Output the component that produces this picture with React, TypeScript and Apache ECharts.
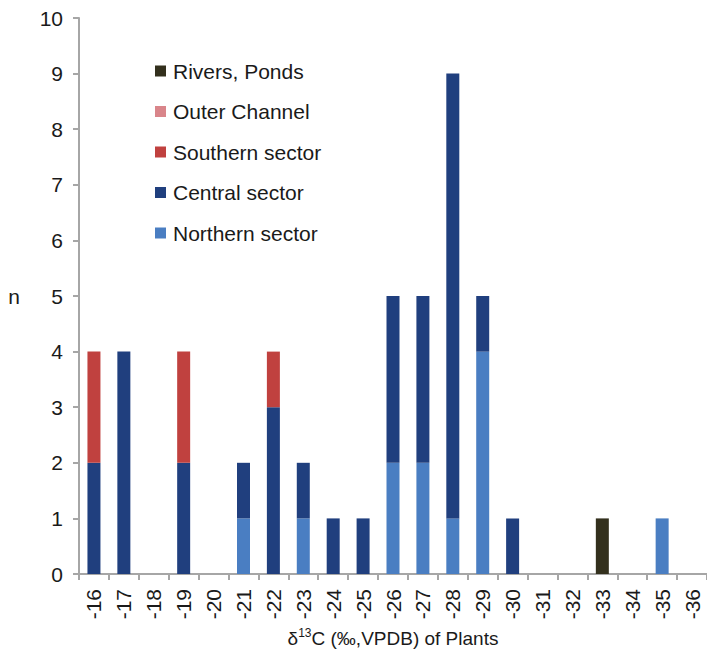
import React, { useEffect, useRef } from "react";
import * as echarts from "echarts";

// δ13C classes of plants (‰, VPDB)
const categories = [
  "-16", "-17", "-18", "-19", "-20", "-21", "-22", "-23", "-24", "-25", "-26",
  "-27", "-28", "-29", "-30", "-31", "-32", "-33", "-34", "-35", "-36",
];

// Counts per class, stacked bottom to top
const northern = [0, 0, 0, 0, 0, 1, 0, 1, 0, 0, 2, 2, 1, 4, 0, 0, 0, 0, 0, 1, 0];
const central = [2, 4, 0, 2, 0, 1, 3, 1, 1, 1, 3, 3, 8, 1, 1, 0, 0, 0, 0, 0, 0];
const southern = [2, 0, 0, 2, 0, 0, 1, 0, 0, 0, 0, 0, 0, 0, 0, 0, 0, 0, 0, 0, 0];
const outerChannel = [0, 0, 0, 0, 0, 0, 0, 0, 0, 0, 0, 0, 0, 0, 0, 0, 0, 0, 0, 0, 0];
const riversPonds = [0, 0, 0, 0, 0, 0, 0, 0, 0, 0, 0, 0, 0, 0, 0, 0, 0, 1, 0, 0, 0];

const legendOrder = ["Rivers, Ponds", "Outer Channel", "Southern sector", "Central sector", "Northern sector"];

const FONT = "Liberation Sans, Arial, Helvetica, sans-serif";
const TEXT = "#1a1a1a";
const AXIS = "#a6a6a6";

export default function App() {
  const ref = useRef<HTMLDivElement>(null);

  useEffect(() => {
    document.body.style.margin = "0";
    if (!ref.current) return;
    const chart = echarts.init(ref.current, undefined, { renderer: "svg" });

    const bar = (name: string, data: number[], color: string) => ({
      name,
      type: "bar",
      stack: "n",
      data,
      barWidth: 13,
      itemStyle: { color },
    });

    chart.setOption({
      animation: false,
      backgroundColor: "#ffffff",
      textStyle: { fontFamily: FONT },
      grid: { left: 79, top: 18, bottom: 84, width: 630 },
      legend: {
        orient: "vertical",
        left: 150,
        top: 54,
        itemWidth: 11,
        itemHeight: 11,
        itemGap: 16.5,
        icon: "rect",
        data: legendOrder,
        textStyle: { fontSize: 21, color: TEXT, fontFamily: FONT, lineHeight: 24, padding: [0, 0, 0, 2] },
      },
      xAxis: {
        type: "category",
        data: categories,
        boundaryGap: true,
        axisLine: { lineStyle: { color: AXIS, width: 2 } },
        axisTick: { show: true, length: 6, alignWithLabel: false, lineStyle: { color: AXIS, width: 2 } },
        axisLabel: { rotate: 90, fontSize: 21, color: TEXT, margin: 15, interval: 0, fontFamily: FONT },
        name: "{t|δ}{s|13}{t|C (‰,VPDB) of Plants}",
        nameLocation: "middle",
        nameGap: 53,
        nameTextStyle: {
          rich: {
            t: { fontSize: 19, color: TEXT, fontFamily: FONT },
            s: { fontSize: 12, color: TEXT, fontFamily: FONT, padding: [0, 0, 10, 0] },
          },
        },
      },
      yAxis: {
        type: "value",
        min: 0,
        max: 10,
        interval: 1,
        splitLine: { show: false },
        axisLine: { show: true, lineStyle: { color: AXIS, width: 2 } },
        axisTick: { show: true, length: 6, lineStyle: { color: AXIS, width: 2 } },
        axisLabel: { fontSize: 21, color: TEXT, margin: 16, fontFamily: FONT },
        name: "n",
        nameLocation: "middle",
        nameRotate: 0,
        nameGap: 59,
        nameTextStyle: { fontSize: 21, color: TEXT, fontFamily: FONT },
      },
      series: [
        bar("Northern sector", northern, "#4a7ec2"),
        bar("Central sector", central, "#203f7e"),
        bar("Southern sector", southern, "#c0413f"),
        bar("Outer Channel", outerChannel, "#d9858a"),
        bar("Rivers, Ponds", riversPonds, "#33301d"),
      ],
    });

    return () => chart.dispose();
  }, []);

  return <div ref={ref} style={{ width: 707, height: 658 }} />;
}
